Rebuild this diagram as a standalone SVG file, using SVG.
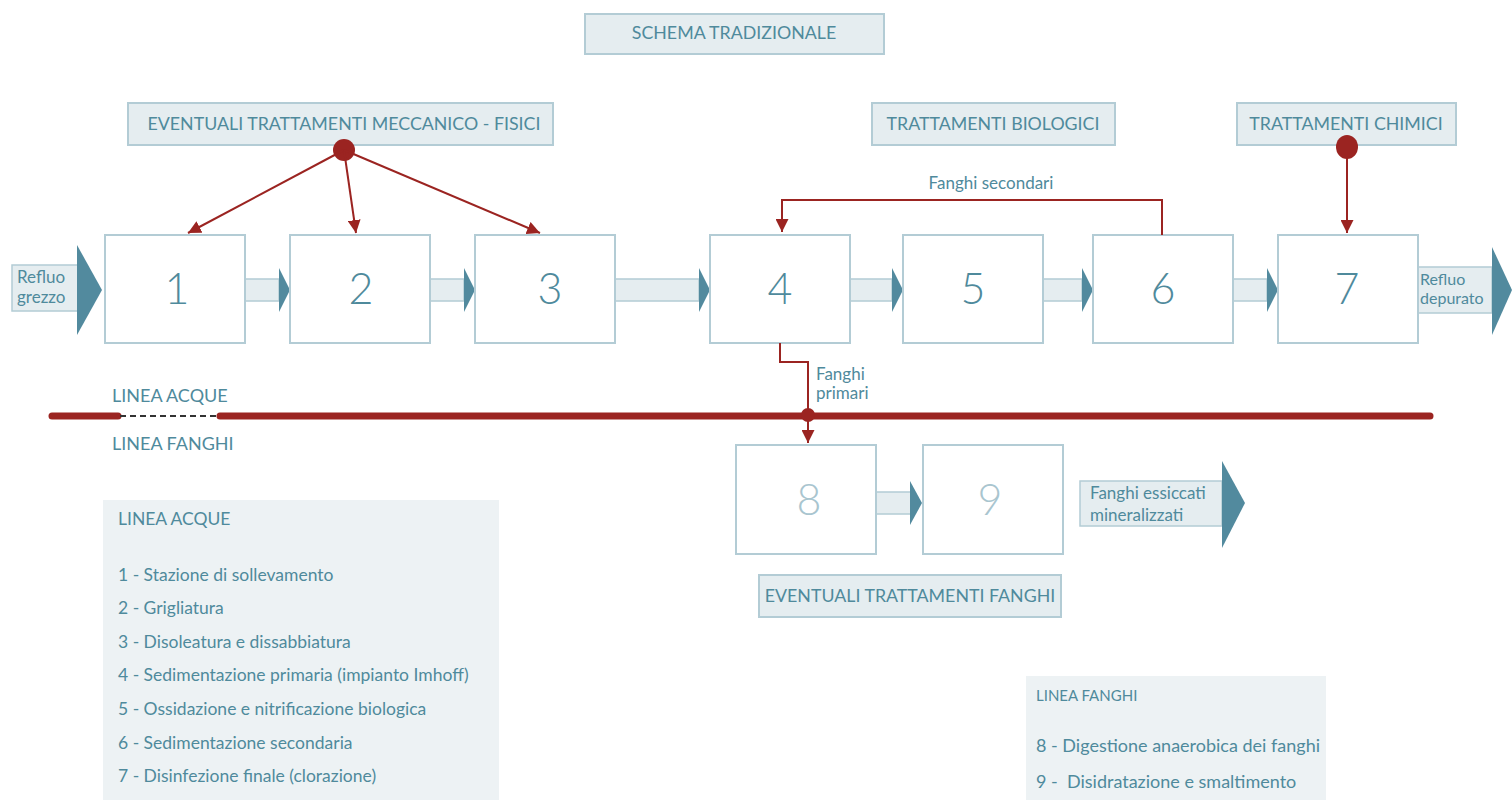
<svg xmlns="http://www.w3.org/2000/svg" width="1512" height="800" viewBox="0 0 1512 800">
<defs>
<style>
text{font-family:Lato,"Open Sans","Liberation Sans",sans-serif;fill:#4f8a9c}
.lbl{fill:#e5edf0;stroke:#b3ccd5;stroke-width:2}
.lt{font-size:17.8px;text-anchor:middle}
.box{fill:#fff;stroke:#b3ccd5;stroke-width:2}
.num{font-size:43px;text-anchor:middle;font-weight:300}
.num2{font-size:43px;text-anchor:middle;font-weight:300;fill:#a9c5cf}
.bar{fill:#e5edf0;stroke:#b3ccd5;stroke-width:1.5}
.head{fill:#528a9e}
.red{stroke:#9b2421;stroke-width:2;fill:none}
.leg{fill:#edf2f4}
.lg{font-size:18px}
.sm{font-size:17.5px}
.fl{font-size:17px}
</style>
<marker id="ar" viewBox="0 0 10 10" refX="10" refY="5" markerWidth="13" markerHeight="13" markerUnits="userSpaceOnUse" orient="auto">
<path d="M0,0 L10,5 L0,10 z" fill="#9b2421"/>
</marker>
</defs>

<g id="title"><rect class="lbl" x="585" y="14" width="299" height="40"/><text class="lt" x="734" y="39">SCHEMA TRADIZIONALE</text></g>
<g id="mech"><rect class="lbl" x="128" y="103" width="425" height="42"/><text class="lt" x="344" y="130">EVENTUALI TRATTAMENTI MECCANICO - FISICI</text></g>
<g id="bio"><rect class="lbl" x="872" y="103" width="243" height="42"/><text class="lt" x="993" y="130">TRATTAMENTI BIOLOGICI</text></g>
<g id="chem"><rect class="lbl" x="1237" y="103" width="219" height="42"/><text class="lt" x="1346" y="130">TRATTAMENTI CHIMICI</text></g>

<g id="flow">
<g id="in"><rect class="bar" x="12" y="265" width="66" height="46"/><path class="head" d="M77,245 L102,290 L77,335 z"/><text class="fl" x="17" y="283">Refluo</text><text class="fl" x="17" y="303">grezzo</text></g>
<rect class="bar" x="245" y="279" width="34" height="22"/><path class="head" d="M279,268 L290,290 L279,312 z"/>
<rect class="bar" x="430" y="279" width="34" height="22"/><path class="head" d="M464,268 L475,290 L464,312 z"/>
<rect class="bar" x="615" y="279" width="84" height="22"/><path class="head" d="M699,268 L710,290 L699,312 z"/>
<rect class="bar" x="850" y="279" width="42" height="22"/><path class="head" d="M892,268 L903,290 L892,312 z"/>
<rect class="bar" x="1043" y="279" width="39" height="22"/><path class="head" d="M1082,268 L1093,290 L1082,312 z"/>
<rect class="bar" x="1233" y="279" width="34" height="22"/><path class="head" d="M1267,268 L1278,290 L1267,312 z"/>
<g id="out"><rect class="bar" x="1418" y="267" width="74" height="46"/><path class="head" d="M1492,247 L1512,290 L1492,335 z"/><text x="1420" y="285" font-size="16">Refluo</text><text x="1420" y="304" font-size="16">depurato</text></g>
<rect class="bar" x="876" y="492" width="35" height="22"/><path class="head" d="M910,481 L922,503 L910,525 z"/>
<g id="dry"><rect class="bar" x="1080" y="481" width="142" height="45"/><path class="head" d="M1222,461 L1245,503 L1222,548 z"/><text class="fl" x="1090" y="499">Fanghi essiccati</text><text class="fl" x="1090" y="521">mineralizzati</text></g>
</g>

<g id="n1"><rect class="box" x="105" y="235" width="140" height="108"/><text class="num" x="177" y="304">1</text></g>
<g id="n2"><rect class="box" x="290" y="235" width="140" height="108"/><text class="num" x="361" y="304">2</text></g>
<g id="n3"><rect class="box" x="475" y="235" width="140" height="108"/><text class="num" x="550" y="304">3</text></g>
<g id="n4"><rect class="box" x="710" y="235" width="140" height="108"/><text class="num" x="780" y="304">4</text></g>
<g id="n5"><rect class="box" x="903" y="235" width="140" height="108"/><text class="num" x="973" y="304">5</text></g>
<g id="n6"><rect class="box" x="1093" y="235" width="140" height="108"/><text class="num" x="1163" y="304">6</text></g>
<g id="n7"><rect class="box" x="1278" y="235" width="140" height="108"/><text class="num" x="1347" y="304">7</text></g>
<g id="n8"><rect class="box" x="736" y="445" width="140" height="109"/><text class="num2" x="809" y="515">8</text></g>
<g id="n9"><rect class="box" x="923" y="445" width="140" height="109"/><text class="num2" x="990" y="515">9</text></g>

<g id="connectors">
<circle cx="344" cy="150" r="11" fill="#9b2421"/>
<line class="red" x1="344" y1="150" x2="188" y2="233" marker-end="url(#ar)"/>
<line class="red" x1="344" y1="150" x2="356" y2="233" marker-end="url(#ar)"/>
<line class="red" x1="344" y1="150" x2="540" y2="233" marker-end="url(#ar)"/>
<ellipse cx="1347" cy="147" rx="11" ry="12" fill="#9b2421"/>
<line class="red" x1="1347" y1="147" x2="1347" y2="233" marker-end="url(#ar)"/>
<polyline class="red" points="1162,235 1162,200 782,200 782,232" marker-end="url(#ar)"/>
<text class="fl" x="991" y="189" text-anchor="middle">Fanghi secondari</text>
<line x1="52" y1="416" x2="118" y2="416" stroke="#9b2421" stroke-width="7" stroke-linecap="round"/>
<line x1="220" y1="416" x2="1430" y2="416" stroke="#9b2421" stroke-width="7" stroke-linecap="round"/>
<line x1="120" y1="416" x2="219" y2="416" stroke="#333" stroke-width="2" stroke-dasharray="6,4"/>
<circle cx="808" cy="415" r="7" fill="#9b2421"/>
<polyline class="red" points="780,343 780,362 808,362 808,443" marker-end="url(#ar)"/>
<text class="fl" x="816" y="380">Fanghi</text><text class="fl" x="816" y="399">primari</text>
<text class="lg" x="112" y="402">LINEA ACQUE</text>
<text class="lg" x="112" y="450">LINEA FANGHI</text>
</g>

<g id="sludge"><rect class="lbl" x="759" y="575" width="302" height="42"/><text class="lt" x="910" y="602">EVENTUALI TRATTAMENTI FANGHI</text></g>

<g id="legend1">
<rect class="leg" x="103" y="500" width="396" height="300"/>
<text class="sm" x="118" y="525">LINEA ACQUE</text>
<text class="sm" x="118" y="581">1 - Stazione di sollevamento</text>
<text class="sm" x="118" y="614">2 - Grigliatura</text>
<text class="sm" x="118" y="648">3 - Disoleatura e dissabbiatura</text>
<text class="sm" x="118" y="681">4 - Sedimentazione primaria (impianto Imhoff)</text>
<text class="sm" x="118" y="715">5 - Ossidazione e nitrificazione biologica</text>
<text class="sm" x="118" y="749">6 - Sedimentazione secondaria</text>
<text class="sm" x="118" y="782">7 - Disinfezione finale (clorazione)</text>
</g>
<g id="legend2">
<rect class="leg" x="1026" y="676" width="300" height="124"/>
<text x="1036" y="701" font-size="15">LINEA FANGHI</text>
<text x="1036" y="752" font-size="18">8 - Digestione anaerobica dei fanghi</text>
<text x="1036" y="788" font-size="18" xml:space="preserve">9 -  Disidratazione e smaltimento</text>
</g>
</svg>
